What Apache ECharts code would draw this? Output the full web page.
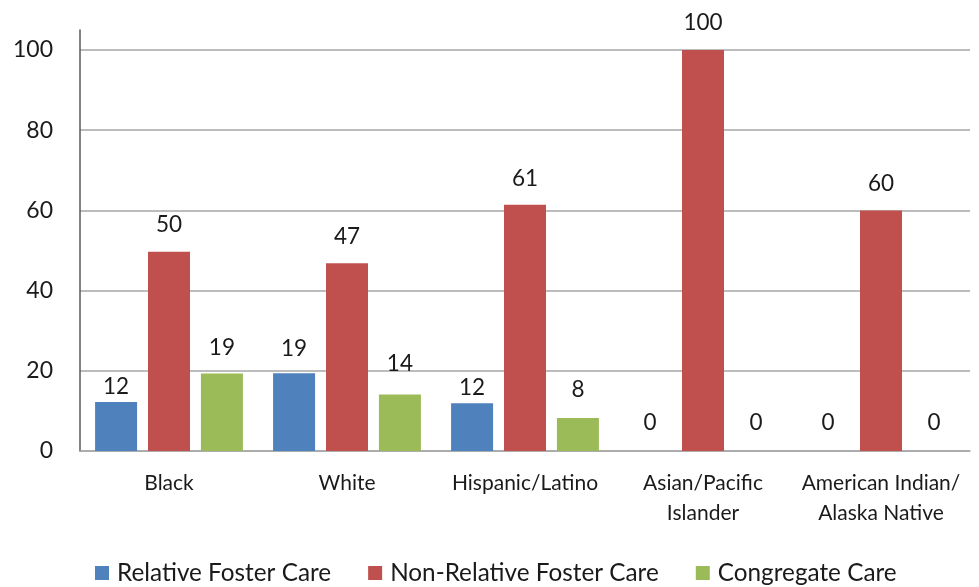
<!DOCTYPE html>
<html>
<head>
<meta charset="utf-8">
<script src="https://cdn.jsdelivr.net/npm/echarts@6/dist/echarts.min.js"></script>
<style>html,body{margin:0;padding:0;background:#fff}#c{width:979px;height:587px}</style>
</head>
<body>
<div id="c"></div>
<script>
var categories = ['Black', 'White', 'Hispanic/Latino', 'Asian/Pacific\nIslander', 'American Indian/\nAlaska Native'];
var relativeFoster = [12.2, 19.4, 11.9, 0, 0];
var nonRelativeFoster = [49.7, 46.8, 61.4, 100, 60];
var congregate = [19.3, 14.1, 8.2, 0, 0];
var yTicks = [0, 20, 40, 60, 80, 100];

// label offsets (style only) per series/category, as placed in the original
var labelDist = {
  rel: [4, 13, 4, 17, 17],
  non: [15, 15, 15, 16, 15],
  con: [14, 19, 17, 17, 17]
};

var FONT = 'Lato, "Open Sans", sans-serif';
var chart = echarts.init(document.getElementById('c'), null, {renderer: 'canvas'});
function build(values, dists) {
  return values.map(function (v, i) {
    return {value: v, label: {distance: dists[i]}};
  });
}
function lbl() {
  return {show: true, position: 'top', distance: 14, color: '#1a1a1a', fontSize: 22.5, fontFamily: FONT,
    formatter: function (p) { return Math.round(p.value); }};
}
chart.setOption({
  animation: false,
  backgroundColor: '#fff',
  textStyle: {fontFamily: FONT},
  grid: {left: 80, right: 9, top: 30, bottom: 136, containLabel: false},
  legend: {
    top: 556, left: 90, itemWidth: 14, itemHeight: 14, itemGap: 37,
    icon: 'rect',
    textStyle: {fontSize: 24.3, color: '#1a1a1a', fontFamily: FONT, padding: [0, 0, 0, 3]},
    data: ['Relative Foster Care', 'Non-Relative Foster Care', 'Congregate Care']
  },
  xAxis: {
    type: 'category', data: categories,
    axisLine: {lineStyle: {color: '#a6a6a6', width: 1.5}},
    axisTick: {show: false},
    axisLabel: {fontSize: 21, color: '#1a1a1a', fontFamily: FONT, margin: 17, lineHeight: 30, interval: 0}
  },
  yAxis: {
    type: 'value', min: 0, max: 105, interval: 20,
    axisLine: {show: true, lineStyle: {color: '#595959', width: 1.5}},
    axisTick: {show: false},
    axisLabel: {fontSize: 23, color: '#1a1a1a', fontFamily: FONT, margin: 27, showMaxLabel: false,
      formatter: function (v) { return yTicks.indexOf(v) >= 0 ? String(v) : ''; }},
    splitLine: {show: true, showMaxLine: false, lineStyle: {color: '#a6a6a6', width: 1.5}}
  },
  series: [
    {name: 'Relative Foster Care', type: 'bar', data: build(relativeFoster, labelDist.rel), barWidth: 42, barGap: '26%',
      itemStyle: {color: '#4F81BD'}, label: lbl()},
    {name: 'Non-Relative Foster Care', type: 'bar', data: build(nonRelativeFoster, labelDist.non), barWidth: 42, barGap: '26%',
      itemStyle: {color: '#C0504D'}, label: lbl()},
    {name: 'Congregate Care', type: 'bar', data: build(congregate, labelDist.con), barWidth: 42, barGap: '26%',
      itemStyle: {color: '#9BBB59'}, label: lbl()}
  ]
});
</script>
</body>
</html>
